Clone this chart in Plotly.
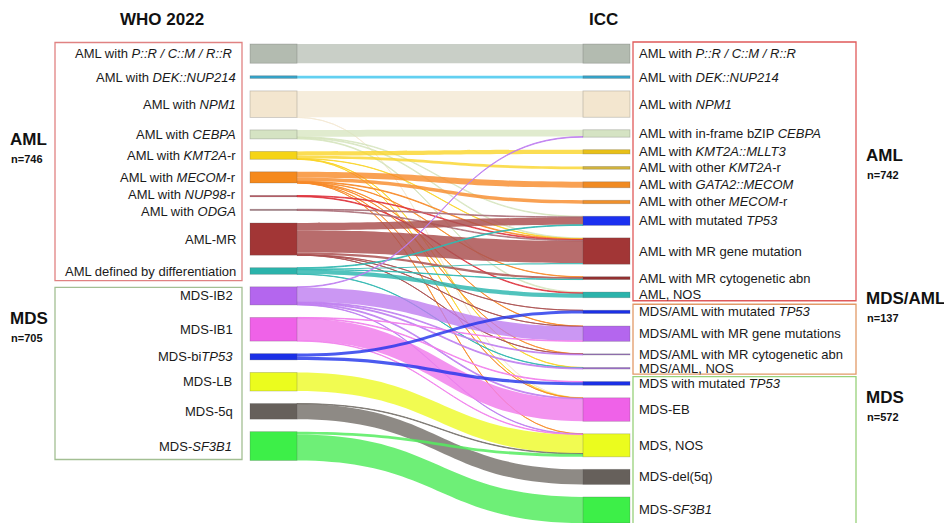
import plotly.graph_objects as go

# ---------------- data ----------------
who_keys = ["PR", "DEK", "NPM1", "CEBPA", "KMT2A", "MECOM", "NUP98", "ODGA", "AMLMR", "DIFF",
            "IB2", "IB1", "BITP53", "LB", "5Q", "SF3B1"]
who_labels = ["AML with <i>P::R / C::M / R::R</i> ", "AML with <i>DEK::NUP214</i>", "AML with <i>NPM1</i>",
              "AML with <i>CEBPA</i>", "AML with <i>KMT2A</i>-r", "AML with <i>MECOM</i>-r",
              "AML with <i>NUP98</i>-r", "AML with <i>ODGA</i>", "AML-MR", "AML defined by differentiation",
              "MDS-IB2 ", "MDS-IB1 ", "MDS-bi<i>TP53</i> ", "MDS-LB ", "MDS-5q ", "MDS-<i>SF3B1</i> "]
who_colors = ["#b3bbb0", "#35a3c8", "#f3e6cf", "#d5e3c3", "#f5d416", "#f5891c", "#b83040", "#a8707a",
              "#a23636", "#2bb3ab", "#b466ee", "#ef62e8", "#1b30e6", "#ebfc1e", "#66605b", "#3def48"]
who_link_colors = ["rgba(192,199,189,0.85)", "rgba(90,205,240,0.95)", "rgba(245,234,214,0.85)",
                   "rgba(214,228,190,0.75)", "rgba(250,212,40,0.8)", "rgba(247,138,40,0.8)",
                   "rgba(222,50,60,0.8)", "rgba(170,110,120,0.8)", "rgba(172,82,82,0.85)",
                   "rgba(50,185,178,0.85)", "rgba(190,125,240,0.8)", "rgba(241,128,236,0.85)",
                   "rgba(30,50,235,0.8)", "rgba(238,250,50,0.85)", "rgba(122,117,112,0.85)",
                   "rgba(85,236,95,0.85)"]
who_groups = ["AML"] * 10 + ["MDS"] * 6

icc_keys = ["PR", "DEK", "NPM1", "CEBPA", "MLLT3", "OKMT2A", "GATA2", "OMECOM", "ATP53", "MRG", "MRC", "ANOS",
            "MATP53", "MAMRG", "MAMRC", "MANOS",
            "MTP53", "EB", "MNOS", "DEL5Q", "MSF3B1"]
icc_labels = ["AML with <i>P::R / C::M / R::R</i>", "AML with <i>DEK::NUP214</i>", "AML with <i>NPM1</i>",
              "AML with in-frame bZIP <i>CEBPA</i>", "AML with <i>KMT2A::MLLT3</i>",
              "AML with other <i>KMT2A</i>-r", "AML with <i>GATA2::MECOM</i>", "AML with other <i>MECOM</i>-r",
              "AML with mutated <i>TP53</i>", "AML with MR gene mutation", "AML with MR cytogenetic abn",
              "AML, NOS",
              "MDS/AML with mutated <i>TP53</i>", "MDS/AML with MR gene mutations",
              "MDS/AML with MR cytogenetic abn", "MDS/AML, NOS",
              "MDS with mutated <i>TP53</i>", "MDS-EB", "MDS, NOS", "MDS-del(5q)", "MDS-<i>SF3B1</i>"]
icc_colors = ["#b3bbb0", "#35a3c8", "#f3e6cf", "#d5e3c3", "#e8c018", "#d2b43c", "#f08a22", "#f0902a",
              "#1b30f0", "#a23636", "#943030", "#2bb3ab",
              "#1b30e6", "#b466ee", "#9a70c0", "#a070d0",
              "#1b30e6", "#ef62e8", "#ebfc1e", "#66605b", "#3def48"]
icc_groups = ["AML"] * 12 + ["MDS/AML"] * 4 + ["MDS"] * 5

link_from = ["PR", "DEK", "NPM1", "NPM1",
             "CEBPA", "CEBPA", "CEBPA", "CEBPA",
             "KMT2A", "KMT2A", "KMT2A", "KMT2A", "KMT2A",
             "MECOM", "MECOM", "MECOM", "MECOM", "MECOM", "MECOM", "MECOM", "MECOM",
             "NUP98", "NUP98",
             "ODGA", "ODGA",
             "AMLMR", "AMLMR", "AMLMR", "AMLMR", "AMLMR", "AMLMR",
             "DIFF", "DIFF", "DIFF", "DIFF", "DIFF",
             "IB2", "IB2", "IB2", "IB2", "IB2", "IB2",
             "IB1", "IB1", "IB1", "IB1",
             "BITP53", "BITP53",
             "LB",
             "5Q", "5Q",
             "SF3B1", "SF3B1"]
link_to = ["PR", "DEK", "NPM1", "EB",
           "CEBPA", "MRG", "ANOS", "ATP53",
           "MLLT3", "OKMT2A", "MRG", "MANOS", "EB",
           "GATA2", "OMECOM", "MRG", "MRC", "MAMRG", "MAMRC", "EB", "MNOS",
           "MRG", "ANOS",
           "ATP53", "MRG",
           "ATP53", "MRG", "MRC", "MATP53", "MAMRG", "MAMRC",
           "ANOS", "MRG", "ATP53", "MRC", "MANOS",
           "CEBPA", "MAMRG", "MAMRC", "MANOS", "EB", "MNOS",
           "EB", "MNOS", "MTP53", "MAMRG",
           "MATP53", "MTP53",
           "MNOS",
           "DEL5Q", "MNOS",
           "MSF3B1", "MNOS"]
link_value = [122, 17, 167, 1,
              43, 5, 5, 4,
              27, 18, 2, 2, 1,
              38, 22, 4, 2, 2, 1, 1, 1,
              4, 4,
              4, 4,
              46, 141, 14, 1, 1, 1,
              27, 7, 4, 2, 2,
              4, 91, 5, 6, 6, 3,
              140, 3, 4, 3,
              20, 20,
              118,
              96, 3,
              165, 18]

group_n = {"WHO_AML": "n=746", "WHO_MDS": "n=705", "ICC_AML": "n=742", "ICC_MDSAML": "n=137", "ICC_MDS": "n=572"}

# ---------------- layout constants ----------------
W, HT = 944, 523
MT = 44
PH = HT - MT
PAD = 12.5
THICK = 47
LEFT_CX, RIGHT_CX = 273.5, 606.5
FONT = "Liberation Sans, Arial, sans-serif"


def px(p):
    return p / W


def py(p):
    return 1 - (p - MT) / PH


nL, nR = len(who_keys), len(icc_keys)
left_val = [sum(v for f, v in zip(link_from, link_value) if f == k) for k in who_keys]
right_val = [sum(v for t, v in zip(link_to, link_value) if t == k) for k in icc_keys]
ky = min((PH - (nL - 1) * PAD) / sum(left_val), (PH - (nR - 1) * PAD) / sum(right_val))


def stack(vals):
    tops, cur = [], 0.0
    for v in vals:
        tops.append(cur)
        cur += v * ky + PAD
    return tops


left_top = stack(left_val)
right_top = stack(right_val)
left_c = [t + v * ky / 2 for t, v in zip(left_top, left_val)]
right_c = [t + v * ky / 2 for t, v in zip(right_top, right_val)]

node_x = [LEFT_CX / W] * nL + [RIGHT_CX / W] * nR
node_y = [c / PH for c in left_c] + [c / PH for c in right_c]

src = [who_keys.index(f) for f in link_from]
tgt = [nL + icc_keys.index(t) for t in link_to]
lcol = [who_link_colors[s] for s in src]

fig = go.Figure(go.Sankey(
    arrangement="fixed",
    domain=dict(x=[0, 1], y=[0, 1]),
    node=dict(
        label=[""] * (nL + nR),
        customdata=list(who_labels) + list(icc_labels),
        hovertemplate="%{customdata}<extra></extra>",
        color=who_colors + icc_colors,
        x=node_x, y=node_y,
        pad=PAD, thickness=THICK,
        line=dict(color="rgba(80,80,80,0.3)", width=0.8),
    ),
    link=dict(source=src, target=tgt, value=link_value, color=lcol, line=dict(width=0)),
))

# small vertical nudges so the two tightly packed left labels do not collide
label_nudge = {"NUP98": -1.5, "ODGA": 1.5}

ann = []
for key, lab, c in zip(who_keys, who_labels, left_c):
    ann.append(dict(x=px(238), y=py(MT + c + label_nudge.get(key, 0)), xref="paper", yref="paper", text=lab,
                    showarrow=False, xanchor="right", yanchor="middle",
                    font=dict(size=13, color="#1a1a1a", family=FONT)))
for lab, c in zip(icc_labels, right_c):
    ann.append(dict(x=px(637), y=py(MT + c), xref="paper", yref="paper", text=lab, showarrow=False,
                    xanchor="left", yanchor="middle", font=dict(size=13, color="#1a1a1a", family=FONT)))

bold = dict(family=FONT, color="#111")
for txt, x, y in [("WHO 2022", 162, 20), ("ICC", 603, 20)]:
    ann.append(dict(x=px(x), y=py(y), xref="paper", yref="paper", text="<b>%s</b>" % txt, showarrow=False,
                    xanchor="center", yanchor="middle", font=dict(size=17, **bold)))
for txt, n, x, y in [("AML", group_n["WHO_AML"], 8, 139), ("MDS", group_n["WHO_MDS"], 8, 318),
                     ("AML", group_n["ICC_AML"], 864, 155), ("MDS/AML", group_n["ICC_MDSAML"], 864, 298),
                     ("MDS", group_n["ICC_MDS"], 864, 397)]:
    ann.append(dict(x=px(x), y=py(y), xref="paper", yref="paper", text="<b>%s</b>" % txt, showarrow=False,
                    xanchor="left", yanchor="middle", font=dict(size=17, **bold)))
    ann.append(dict(x=px(x + 1), y=py(y + 20), xref="paper", yref="paper", text="<b>%s</b>" % n,
                    showarrow=False, xanchor="left", yanchor="middle", font=dict(size=11, **bold)))


def box_rows(groups, tops, vals, name):
    idx = [i for i, g in enumerate(groups) if g == name]
    return MT + tops[idx[0]], MT + tops[idx[-1]] + vals[idx[-1]] * ky


boxes = []
a0, a1 = box_rows(who_groups, left_top, left_val, "AML")
m0, m1 = box_rows(who_groups, left_top, left_val, "MDS")
boxes.append(dict(x0=55, x1=242, y0=a0 - 1.5, y1=a1 + PAD / 2, color="#e08282"))
boxes.append(dict(x0=55, x1=242, y0=m0 + 0.5, y1=m1 - 1, color="#a3bf93"))
r0, r1 = box_rows(icc_groups, right_top, right_val, "AML")
q0, q1 = box_rows(icc_groups, right_top, right_val, "MDS/AML")
s0, s1 = box_rows(icc_groups, right_top, right_val, "MDS")
boxes.append(dict(x0=633, x1=856, y0=r0 - 2, y1=r1 + 3, color="#e05a5a"))
boxes.append(dict(x0=633, x1=856, y0=q0 - 6, y1=q1 + 5, color="#e29a68"))
boxes.append(dict(x0=633, x1=856, y0=s0 - 5, y1=s1 + 8, color="#98d27a"))

fig.update_layout(
    width=W, height=HT,
    margin=dict(l=0, r=0, t=MT, b=0),
    paper_bgcolor="white", plot_bgcolor="white",
    font=dict(family=FONT, size=13),
    annotations=ann,
    shapes=[dict(type="rect", xref="paper", yref="paper", x0=px(b["x0"]), x1=px(b["x1"]),
                 y0=py(b["y0"]), y1=py(b["y1"]), line=dict(color=b["color"], width=1.3),
                 fillcolor="rgba(0,0,0,0)", layer="below") for b in boxes],
)

fig.write_html("out.html", config={"displayModeBar": False},
               post_script="document.body.style.margin='0px';")
